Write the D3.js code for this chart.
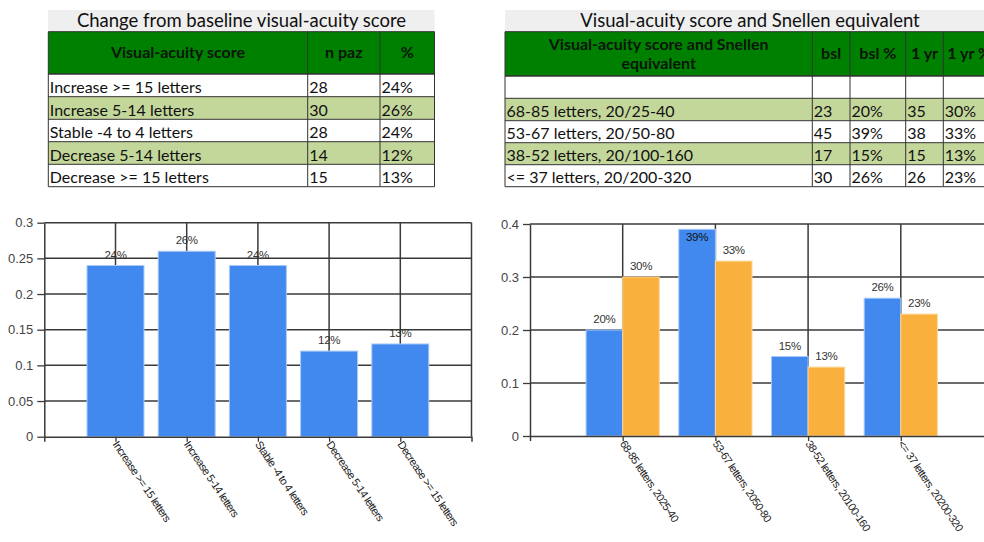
<!DOCTYPE html>
<html><head><meta charset="utf-8">
<script src="https://cdn.jsdelivr.net/npm/d3@7/dist/d3.min.js"></script>
<style>
html,body{margin:0;padding:0;background:#fff;overflow:hidden;}
svg{display:block;}
</style></head>
<body>
<svg id="c" width="984" height="542"></svg>
<script>
// ---------- DATA ----------
const leftTitle = "Change from baseline visual-acuity score";
const leftHeaders = ["Visual-acuity score", "n paz", "%"];
const leftCats = ["Increase >= 15 letters", "Increase 5-14 letters", "Stable -4 to 4 letters", "Decrease 5-14 letters", "Decrease >= 15 letters"];
const leftN = [28, 30, 28, 14, 15];
const leftPct = [24, 26, 24, 12, 13];
const leftYTicks = [0, 0.05, 0.1, 0.15, 0.2, 0.25, 0.3];

const rightTitle = "Visual-acuity score and Snellen equivalent";
const rightHeaders = [["Visual-acuity score and Snellen", "equivalent"], ["bsl"], ["bsl %"], ["1 yr"], ["1 yr %"]];
const rightCats = ["68-85 letters, 20/25-40", "53-67 letters, 20/50-80", "38-52 letters, 20/100-160", "<= 37 letters, 20/200-320"];
const rightAxisLabels = ["68-85 letters, 2025-40", "53-67 letters, 2050-80", "38-52 letters, 20100-160", "<= 37 letters, 20200-320"];
const bsl = [23, 45, 17, 30];
const bslPct = [20, 39, 15, 26];
const yr = [35, 38, 15, 26];
const yrPct = [30, 33, 13, 23];
const rightYTicks = [0, 0.1, 0.2, 0.3, 0.4];

// ---------- STYLE ----------
const GREEN = "#008000", ALT = "#c4d79b", TITLEBG = "#efefef";
const BLUE = "#4189ee", BLUE_EDGE = "#a9c9f7", ORANGE = "#fab03d", ORANGE_EDGE = "#fcd79c";
const GRID = "#3a3a3a";
const tableFont = "Lato, 'Open Sans', sans-serif";
const chartFont = "Arial, 'Liberation Sans', sans-serif";

const svg = d3.select("#c");

// ---------- TABLES ----------
function drawTable(g, o) {
  g.append("rect").attr("x", o.x0).attr("y", o.titleY0).attr("width", o.titleX1 - o.x0).attr("height", o.headY0 - o.titleY0).attr("fill", TITLEBG);
  g.append("text").attr("x", o.titleCx).attr("y", o.headY0 - 4.5).attr("text-anchor", "middle")
    .attr("font-family", tableFont).attr("font-size", 18.5).attr("fill", "#111").text(o.title);
  const xs = o.cols;
  g.append("rect").attr("x", xs[0]).attr("y", o.headY0).attr("width", xs[xs.length - 1] - xs[0]).attr("height", o.headY1 - o.headY0).attr("fill", GREEN);
  o.headers.forEach((h, i) => {
    const cx = (xs[i] + xs[i + 1]) / 2;
    const cy = (o.headY0 + o.headY1) / 2;
    const lh = 18.5;
    h.forEach((line, j) => {
      g.append("text").attr("x", cx).attr("y", cy + (j - (h.length - 1) / 2) * lh).attr("dy", "0.35em")
        .attr("text-anchor", "middle").attr("font-family", tableFont).attr("font-weight", "bold")
        .attr("font-size", 16).attr("fill", "#0a150a").text(line);
    });
  });
  o.rows.forEach((r, i) => {
    const y0 = o.rowY[i], y1 = o.rowY[i + 1];
    g.append("rect").attr("x", xs[0]).attr("y", y0).attr("width", xs[xs.length - 1] - xs[0]).attr("height", y1 - y0).attr("fill", o.rowFill[i]);
    r.forEach((c, j) => {
      g.append("text").attr("x", xs[j] + 1.5).attr("y", y1 - 3.8).attr("font-family", tableFont)
        .attr("font-size", 16).attr("fill", "#111").text(c);
    });
  });
  const yTop = o.headY0, yBot = o.rowY[o.rowY.length - 1];
  xs.forEach(x => g.append("line").attr("x1", x).attr("x2", x).attr("y1", yTop).attr("y2", yBot).attr("stroke", "#333").attr("stroke-width", 1));
  [o.headY0, o.headY1].concat(o.rowY).forEach(y => g.append("line").attr("x1", xs[0]).attr("x2", xs[xs.length - 1]).attr("y1", y).attr("y2", y).attr("stroke", "#333").attr("stroke-width", 1));
}

const leftRowY = [74, 96.7, 119.3, 141.7, 164.3, 186.7];
drawTable(svg.append("g"), {
  x0: 48, titleX1: 434.5, titleCx: 241.5, titleY0: 10, headY0: 31.7, headY1: 74,
  title: leftTitle,
  cols: [48.3, 307.7, 380, 434.5],
  headers: leftHeaders.map(h => [h]),
  rows: leftCats.map((c, i) => [c, String(leftN[i]), leftPct[i] + "%"]),
  rowY: leftRowY,
  rowFill: ["#fff", ALT, "#fff", ALT, "#fff"]
});

const rightRowY = [76, 98.3, 120.7, 142.7, 164.7, 186.7];
drawTable(svg.append("g"), {
  x0: 505, titleX1: 995, titleCx: 750, titleY0: 10, headY0: 31.7, headY1: 76,
  title: rightTitle,
  cols: [505, 812.3, 850, 905.7, 943.3, 995],
  headers: rightHeaders,
  rows: [["", "", "", "", ""]].concat(rightCats.map((c, i) => [c, String(bsl[i]), bslPct[i] + "%", String(yr[i]), yrPct[i] + "%"])),
  rowY: rightRowY,
  rowFill: ["#fff", ALT, "#fff", ALT, "#fff"]
});

// ---------- CHARTS ----------
function styleAxis(ax) {
  ax.selectAll("path.domain").attr("stroke", GRID).attr("stroke-width", 1.5);
  ax.selectAll(".tick line").attr("stroke", GRID).attr("stroke-width", 1.3);
}

function drawChart(g, o) {
  const x = d3.scalePoint().domain(o.cats).range([o.x0, o.x1]).padding(1);
  const y = d3.scaleLinear().domain([0, o.ymax]).range([o.y0, o.y1]);
  g.selectAll("line.hg").data(o.yticks.filter(t => t > 0)).join("line")
    .attr("x1", o.x0).attr("x2", o.x1).attr("y1", d => y(d)).attr("y2", d => y(d))
    .attr("stroke", GRID).attr("stroke-width", 1.5);
  g.selectAll("line.vg").data(o.cats).join("line")
    .attr("x1", d => x(d)).attr("x2", d => x(d)).attr("y1", o.y0).attr("y2", o.y1)
    .attr("stroke", GRID).attr("stroke-width", 1.5);
  g.append("line").attr("x1", o.x1).attr("x2", o.x1).attr("y1", o.y0).attr("y2", o.y1).attr("stroke", GRID).attr("stroke-width", 1.5);

  const step = x.step();
  const groupW = step * o.groupFrac;
  const nS = o.series.length;
  const bw = groupW / nS;
  o.series.forEach((s, si) => {
    g.append("g").selectAll("rect").data(s.values).join("rect")
      .attr("x", (d, i) => x(o.cats[i]) - groupW / 2 + si * bw)
      .attr("y", d => y(d))
      .attr("width", bw)
      .attr("height", d => o.y0 - y(d))
      .attr("fill", s.color).attr("stroke", s.edge).attr("stroke-width", 1);
  });
  o.series.forEach((s, si) => {
    g.append("g").selectAll("text").data(s.values).join("text")
      .attr("x", (d, i) => x(o.cats[i]) - groupW / 2 + si * bw + bw / 2)
      .attr("y", d => (y(d) - 17 < o.y1) ? y(d) + 12 : y(d) - 7)
      .attr("text-anchor", "middle").attr("font-family", chartFont).attr("font-size", 11.5)
      .attr("letter-spacing", -0.3).attr("fill", d => (y(d) - 17 < o.y1) ? "#111" : "#333")
      .text(d => Math.round(d * 100) + "%");
  });

  const ay = g.append("g").attr("transform", `translate(${o.x0},0)`)
    .call(d3.axisLeft(y).tickValues(o.yticks).tickSizeInner(7).tickSizeOuter(0).tickPadding(4).tickFormat(d3.format("~g")));
  ay.selectAll("text").attr("font-family", chartFont).attr("font-size", 13).attr("fill", "#444");
  styleAxis(ay);
  const ax = g.append("g").attr("transform", `translate(0,${o.y0})`)
    .call(d3.axisBottom(x).tickSizeInner(5).tickSizeOuter(5).tickFormat(""));
  styleAxis(ax);
  g.append("g").selectAll("text").data(o.cats).join("text")
    .attr("transform", d => `translate(${x(d)},${o.y0 + 5.5}) rotate(56)`)
    .attr("dy", "0.35em").attr("font-family", chartFont).attr("font-size", 11)
    .attr("letter-spacing", -0.55).attr("fill", "#222")
    .text((d, i) => o.labels[i]);
}

drawChart(svg.append("g"), {
  cats: leftCats, labels: leftCats,
  x0: 44.3, x1: 471.5, y0: 436.7, y1: 222.7, ymax: 0.3, yticks: leftYTicks,
  groupFrac: 0.8,
  series: [{ values: leftPct.map(v => v / 100), color: BLUE, edge: BLUE_EDGE }]
});

drawChart(svg.append("g"), {
  cats: rightCats, labels: rightAxisLabels,
  x0: 530, x1: 993.5, y0: 436, y1: 224, ymax: 0.4, yticks: rightYTicks,
  groupFrac: 0.79,
  series: [
    { values: bslPct.map(v => v / 100), color: BLUE, edge: BLUE_EDGE },
    { values: yrPct.map(v => v / 100), color: ORANGE, edge: ORANGE_EDGE }
  ]
});
</script>
</body></html>
